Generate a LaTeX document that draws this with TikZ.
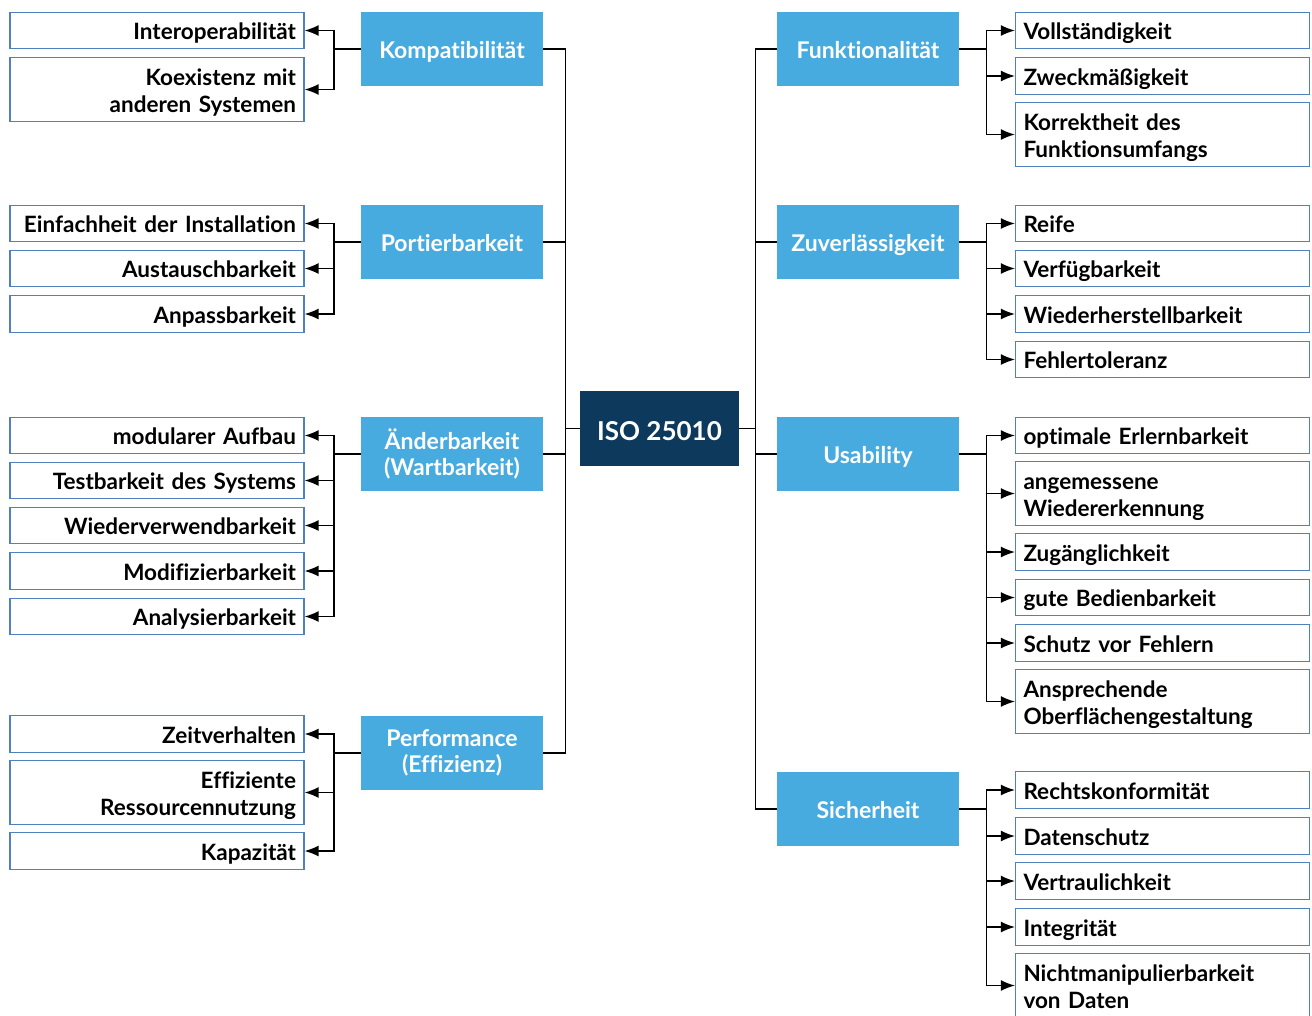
\documentclass[tikz,border=0pt]{standalone}
\usepackage{fontspec}
\setmainfont{Lato}[BoldFont={Lato Bold},Ligatures=NoCommon]
\usetikzlibrary{arrows.meta}
\definecolor{catblue}{RGB}{72,171,224}
\definecolor{isoblue}{RGB}{12,57,92}
\definecolor{leafblue}{RGB}{79,129,189}
\newcommand{\leaffont}{\fontsize{22.5}{27}\selectfont\bfseries}
\newcommand{\catfont}{\fontsize{23}{26}\selectfont\bfseries}
\begin{document}
\begin{tikzpicture}[x=1pt,y=-1pt,
  leaf/.style={draw=leafblue, line width=1.2pt, minimum width=294pt, text width=278pt, inner sep=0pt, font=\leaffont, fill=white, text=black},
  lleaf/.style={leaf, align=right},
  rleaf/.style={leaf, align=left},
  hone/.style={minimum height=36.5pt, text height=22pt, text depth=4pt},
  htwo/.style={minimum height=63.5pt, text height=25pt, text depth=33.6pt},
  cat/.style={fill=catblue, minimum width=182pt, minimum height=74pt, text=white, font=\catfont, align=center, inner sep=0pt},
  cone/.style={text height=23pt, text depth=4.4pt},
  iso/.style={fill=isoblue, minimum width=159pt, minimum height=75pt, text=white, font=\fontsize{26}{30}\selectfont\bfseries, inner sep=0pt, text height=26pt, text depth=3pt},
  arr/.style={-{Latex[length=14pt,width=11pt]}, line width=1.4pt},
  conn/.style={line width=1.4pt}]
\useasboundingbox (0,0) rectangle (1312,1015);

% center
\node[iso] (iso) at (659.5,428.5) {ISO 25010};

% left categories
\node[cat,cone] (komp) at (452,49) {Kompatibilität};
\node[cat,cone] (port) at (452,242) {Portierbarkeit};
\node[cat] (aend) at (452,454) {Änderbarkeit\\(Wartbarkeit)};
\node[cat] (perf) at (452,753) {Performance\\(Effizienz)};

% right categories
\node[cat,cone] (funk) at (868,49) {Funktionalität};
\node[cat,cone] (zuv) at (868,242) {Zuverlässigkeit};
\node[cat,cone] (usab) at (868,454) {Usability};
\node[cat,cone] (sich) at (868,809) {Sicherheit};

% left leaves
\node[lleaf,hone] (interop) at (157,30.5) {Interoperabilität};
\node[lleaf,htwo] (koex) at (157,89.5) {Koexistenz mit\\anderen Systemen};
\node[lleaf,hone] (einf) at (157,223.5) {Einfachheit der Installation};
\node[lleaf,hone] (aust) at (157,268.5) {Austauschbarkeit};
\node[lleaf,hone] (anp) at (157,314) {Anpassbarkeit};
\node[lleaf,hone] (modu) at (157,435.5) {modularer Aufbau};
\node[lleaf,hone] (test) at (157,480.5) {Testbarkeit des Systems};
\node[lleaf,hone] (wiedv) at (157,525.5) {Wiederverwendbarkeit};
\node[lleaf,hone] (modi) at (157,571) {Modifizierbarkeit};
\node[lleaf,hone] (anal) at (157,616.5) {Analysierbarkeit};
\node[lleaf,hone] (zeit) at (157,734) {Zeitverhalten};
\node[lleaf,htwo] (effi) at (157,792.5) {Effiziente\\Ressourcennutzung};
\node[lleaf,hone] (kapa) at (157,851) {Kapazität};

% right leaves
\node[rleaf,hone] (voll) at (1162.5,30.5) {Vollständigkeit};
\node[rleaf,hone] (zweck) at (1162.5,76) {Zweckmäßigkeit};
\node[rleaf,htwo] (korr) at (1162.5,134.5) {Korrektheit des\\Funktionsumfangs};
\node[rleaf,hone] (reife) at (1162.5,223.5) {Reife};
\node[rleaf,hone] (verf) at (1162.5,268.5) {Verfügbarkeit};
\node[rleaf,hone] (wiedh) at (1162.5,314) {Wiederherstellbarkeit};
\node[rleaf,hone] (fehl) at (1162.5,359.5) {Fehlertoleranz};
\node[rleaf,hone] (erl) at (1162.5,435.5) {optimale Erlernbarkeit};
\node[rleaf,htwo] (wiede) at (1162.5,493.5) {angemessene\\Wiedererkennung};
\node[rleaf,hone] (zug) at (1162.5,552) {Zugänglichkeit};
\node[rleaf,hone] (bed) at (1162.5,597.5) {gute Bedienbarkeit};
\node[rleaf,hone] (schutz) at (1162.5,643) {Schutz vor Fehlern};
\node[rleaf,htwo] (ansp) at (1162.5,701.5) {Ansprechende\\Oberflächengestaltung};
\node[rleaf,hone] (recht) at (1162.5,790) {Rechtskonformität};
\node[rleaf,hone] (daten) at (1162.5,836) {Datenschutz};
\node[rleaf,hone] (vertr) at (1162.5,881) {Vertraulichkeit};
\node[rleaf,hone] (integ) at (1162.5,927) {Integrität};
\node[rleaf,htwo] (nicht) at (1162.5,985.5) {Nichtmanipulierbarkeit\\von Daten};

% trunks
\draw[conn] (komp.east) -- ++(22,0) |- (iso.west);
\draw[conn] (perf.east) -- ++(22,0) |- (iso.west);
\draw[conn] (port.east) -- ++(22,0);
\draw[conn] (aend.east) -- ++(22,0);
\draw[conn] (iso.east) -- ++(16,0) |- (funk.west);
\draw[conn] (iso.east) -- ++(16,0) |- (sich.west);
\draw[conn] (zuv.west) -- ++(-22,0);
\draw[conn] (usab.west) -- ++(-22,0);

% left brackets
\draw[conn] (komp.west) -- ++(-27,0) coordinate (kb);
\draw[arr] (kb) |- (interop.east);
\draw[arr] (kb) |- (koex.east);
\draw[conn] (port.west) -- ++(-27,0) coordinate (pb);
\draw[arr] (pb) |- (einf.east);
\draw[arr] (pb) |- (aust.east);
\draw[arr] (pb) |- (anp.east);
\draw[conn] (aend.west) -- ++(-27,0) coordinate (ab);
\draw[arr] (ab) |- (modu.east);
\draw[arr] (ab) |- (test.east);
\draw[arr] (ab) |- (wiedv.east);
\draw[arr] (ab) |- (modi.east);
\draw[arr] (ab) |- (anal.east);
\draw[conn] (perf.west) -- ++(-27,0) coordinate (eb);
\draw[arr] (eb) |- (zeit.east);
\draw[arr] (eb) |- (effi.east);
\draw[arr] (eb) |- (kapa.east);

% right brackets
\draw[conn] (funk.east) -- ++(27,0) coordinate (fb);
\draw[arr] (fb) |- (voll.west);
\draw[arr] (fb) |- (zweck.west);
\draw[arr] (fb) |- (korr.west);
\draw[conn] (zuv.east) -- ++(27,0) coordinate (zb);
\draw[arr] (zb) |- (reife.west);
\draw[arr] (zb) |- (verf.west);
\draw[arr] (zb) |- (wiedh.west);
\draw[arr] (zb) |- (fehl.west);
\draw[conn] (usab.east) -- ++(27,0) coordinate (ub);
\draw[arr] (ub) |- (erl.west);
\draw[arr] (ub) |- (wiede.west);
\draw[arr] (ub) |- (zug.west);
\draw[arr] (ub) |- (bed.west);
\draw[arr] (ub) |- (schutz.west);
\draw[arr] (ub) |- (ansp.west);
\draw[conn] (sich.east) -- ++(27,0) coordinate (sb);
\draw[arr] (sb) |- (recht.west);
\draw[arr] (sb) |- (daten.west);
\draw[arr] (sb) |- (vertr.west);
\draw[arr] (sb) |- (integ.west);
\draw[arr] (sb) |- (nicht.west);
\end{tikzpicture}
\end{document}
